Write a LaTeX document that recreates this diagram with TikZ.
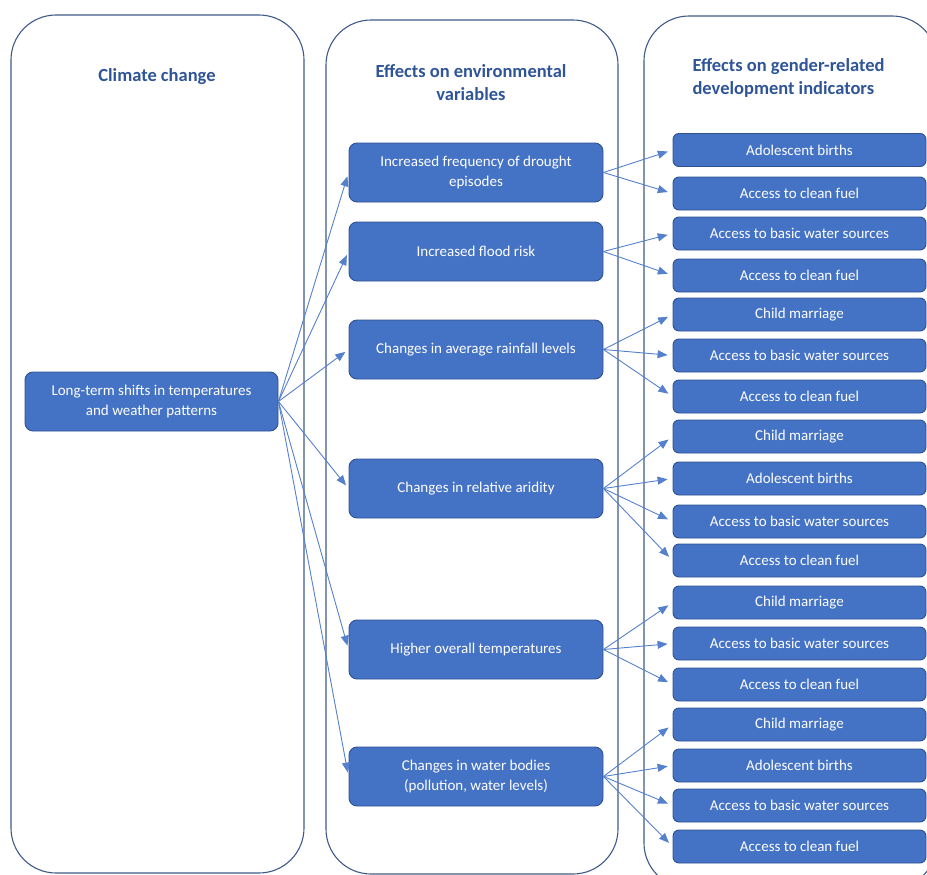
\documentclass[tikz,border=0pt]{standalone}
\usepackage{fontspec}
\setmainfont{Carlito}
\usepackage{tikz}
\usetikzlibrary{arrows.meta}

\definecolor{boxblue}{HTML}{4472C4}
\definecolor{boxedge}{HTML}{2F528F}
\definecolor{colline}{HTML}{3F5A88}
\definecolor{headblue}{HTML}{2F5597}
\definecolor{arrblue}{HTML}{5580CC}

\begin{document}
\begin{tikzpicture}[x=1pt,y=-1pt,
    column/.style={draw=colline,line width=1.1pt,rounded corners=45pt},
    head/.style={text=headblue,font=\fontsize{18.5}{23}\selectfont\bfseries,align=center},
    cause/.style={draw=boxedge,fill=boxblue,text=white,rounded corners=8pt,line width=0.9pt,
      minimum width=253pt,minimum height=59pt,align=center,font=\fontsize{15}{20}\selectfont},
    effect/.style={cause,minimum width=254pt},
    indic/.style={cause,minimum height=33pt,rounded corners=6pt},
    link/.style={draw=arrblue,line width=0.9pt,-{Triangle[length=10pt,width=8pt]}}]
  \useasboundingbox (0,0) rectangle (927,875);
  \clip (0,0) rectangle (927,875);

  % the three columns
  \draw[column] (11,15) rectangle (304,873);
  \draw[column] (326,20) rectangle (618,874);
  \draw[column] (644,16) rectangle (937,888);

  \node[head] (h1) at (157,77) {Climate change};
  \node[head] (h2) at (471,83) {Effects on environmental\\variables};
  \node[head,align=left,anchor=west] (h3) at (689,78) {Effects on gender-related\\development indicators};

  % climate change
  \node[cause] (src) at (151.5,401.5) {Long-term shifts in temperatures\\and weather patterns};

  % environmental variables
  \node[effect] (m1) at (476,172.5) {Increased frequency of drought\\episodes};
  \node[effect] (m2) at (476,251.5) {Increased flood risk};
  \node[effect] (m3) at (476,349.5) {Changes in average rainfall levels};
  \node[effect] (m4) at (476,488.5) {Changes in relative aridity};
  \node[effect] (m5) at (476,649.5) {Higher overall temperatures};
  \node[effect] (m6) at (476,776.5) {Changes in water bodies\\(pollution, water levels)};

  % development indicators
  \node[indic] (r1)  at (799.5,150)   {Adolescent births};
  \node[indic] (r2)  at (799.5,193.5) {Access to clean fuel};
  \node[indic] (r3)  at (799.5,233.5) {Access to basic water sources};
  \node[indic] (r4)  at (799.5,275.5) {Access to clean fuel};
  \node[indic] (r5)  at (799.5,314.5) {Child marriage};
  \node[indic] (r6)  at (799.5,355.5) {Access to basic water sources};
  \node[indic] (r7)  at (799.5,396.5) {Access to clean fuel};
  \node[indic] (r8)  at (799.5,436.5) {Child marriage};
  \node[indic] (r9)  at (799.5,478.5) {Adolescent births};
  \node[indic] (r10) at (799.5,521.5) {Access to basic water sources};
  \node[indic] (r11) at (799.5,560.5) {Access to clean fuel};
  \node[indic] (r12) at (799.5,602.5) {Child marriage};
  \node[indic] (r13) at (799.5,643.5) {Access to basic water sources};
  \node[indic] (r14) at (799.5,684.5) {Access to clean fuel};
  \node[indic] (r15) at (799.5,724.5) {Child marriage};
  \node[indic] (r16) at (799.5,765.5) {Adolescent births};
  \node[indic] (r17) at (799.5,805.5) {Access to basic water sources};
  \node[indic] (r18) at (799.5,846.5) {Access to clean fuel};

  % arrows
  \foreach \m in {1,...,6}
    \draw[link,shorten >=4pt] (src.east) -- (m\m.west);
  \foreach \m/\r in {1/1,1/2,2/3,2/4,3/5,3/6,3/7,4/8,4/9,4/10,4/11,
                     5/12,5/13,5/14,6/15,6/16,6/17,6/18}
    \draw[link,shorten >=5pt] (m\m.east) -- (r\r.west);
\end{tikzpicture}
\end{document}
